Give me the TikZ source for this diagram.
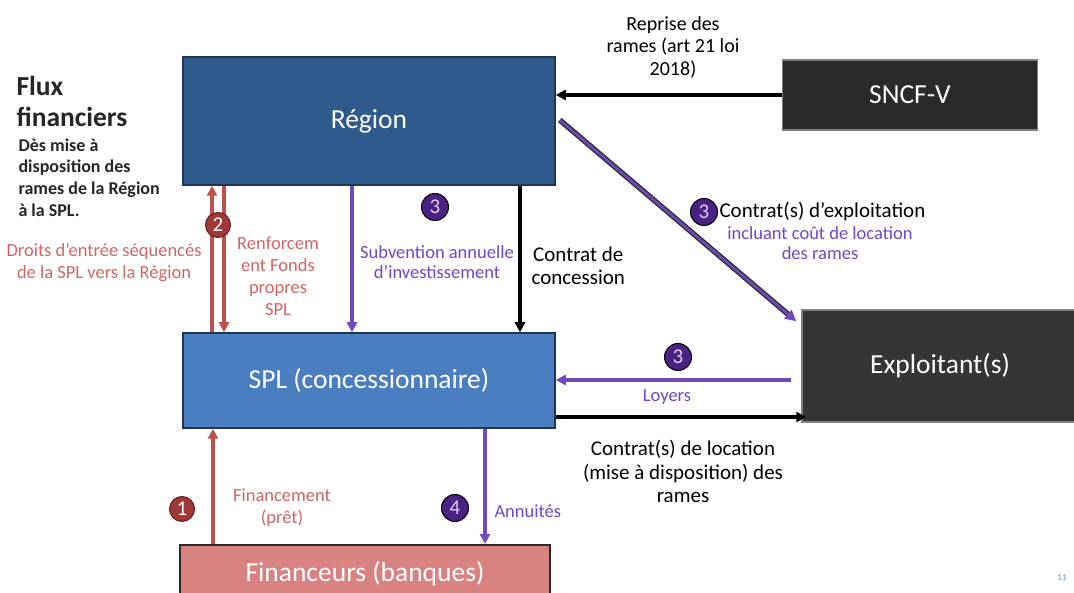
\documentclass[tikz,border=0pt]{standalone}
\usepackage{fontspec}
\setmainfont{Carlito}
\usetikzlibrary{arrows.meta}

\definecolor{regionblue}{HTML}{2E5A8C}
\definecolor{splblue}{HTML}{4A7EC1}
\definecolor{boxedge}{HTML}{1F3550}
\definecolor{darkbox}{HTML}{2A2A2A}
\definecolor{bankpink}{HTML}{D98282}
\definecolor{flowred}{HTML}{C0504D}
\definecolor{labelred}{HTML}{CD6666}
\definecolor{flowpurple}{HTML}{7048C0}
\definecolor{stepred}{HTML}{A03838}
\definecolor{steppurple}{HTML}{4A2283}

\begin{document}
\begin{tikzpicture}[x=1pt,y=-1pt,
  box/.style={draw=boxedge,line width=1.5pt,minimum width=#1,inner sep=0pt,text=white,font=\fontsize{27.5}{27.5}\selectfont},
  flow/.style={line width=3.5pt,-{Triangle[length=10pt,width=10pt]}},
  stepred/.style={circle,fill=stepred,draw=stepred!60!black,line width=1pt,text=white,minimum size=25pt,inner sep=0pt,font=\fontsize{21}{21}\selectfont},
  steppurple/.style={circle,fill=steppurple,draw=black,line width=1pt,text=violet!20,minimum size=27pt,inner sep=0pt,font=\fontsize{21}{21}\selectfont},
  blacklabel/.style={align=center,font=\fontsize{21}{23.5}\selectfont},
  redlabel/.style={align=center,text=labelred,font=\fontsize{18.5}{22}\selectfont},
  purplelabel/.style={align=center,text=flowpurple,font=\fontsize{18.5}{20.5}\selectfont}]
  \useasboundingbox[fill=white] (0,0) rectangle (1074,593);

  % Actors
  \node[box=372pt,minimum height=128pt,fill=regionblue] (reg) at (369,121) {Région};
  \node[box=255pt,minimum height=70pt,fill=darkbox,draw=darkbox!60] (sncf) at (910,95) {SNCF-V};
  \node[box=372pt,minimum height=95pt,fill=splblue] (spl) at (369,380.5) {SPL (concessionnaire)};
  \node[box=276pt,minimum height=112pt,fill=darkbox!95,draw=darkbox!60] (expl) at (940,366) {Exploitant(s)};
  \node[box=370pt,minimum height=58pt,fill=bankpink,draw=darkbox,line width=2pt] (fin) at (365,574) {Financeurs (banques)};

  % Title on the left
  \node[anchor=north west,align=left,font=\bfseries\fontsize{27.5}{31}\selectfont,text=black!85] (title) at (13,73) {Flux\\financiers};
  \node[anchor=north west,align=left,font=\bfseries\fontsize{18}{21.7}\selectfont,text=black!85] (subtitle) at (15,135) {Dès mise à\\disposition des\\rames de la Région\\à la SPL.};

  % SNCF-V hands the rolling stock to the Region
  \draw[flow] (sncf.west) -- (sncf.west -| reg.east);
  \node[blacklabel,font=\fontsize{20}{22.5}\selectfont] (reprise) at (673,47) {Reprise des\\rames (art 21 loi\\2018)};

  % Operating contract, Region to operator(s)
  \draw[black!80,line width=5.5pt,shorten >=8pt] ([xshift=4pt,yshift=1pt]reg.east) -- ([xshift=-5pt,yshift=-12pt]expl.north west);
  \draw[flowpurple,line width=2.5pt,-{Triangle[length=11pt,width=11pt]}] ([xshift=4pt,yshift=1pt]reg.east) -- ([xshift=-5pt,yshift=-12pt]expl.north west);
  \node[steppurple] (s3c) at (704,212) {3};
  \node[blacklabel,anchor=west] (exploit) at (716,212) {Contrat(s) d’exploitation};
  \node[purplelabel] (incluant) at (820,243) {incluant coût de location\\des rames};

  % Equity flows between SPL and Region
  \draw[flow,flowred] ([xshift=-157pt]reg.south |- spl.north) -- ([xshift=-157pt]reg.south);
  \draw[flow,flowred] ([xshift=-145pt]reg.south) -- ([xshift=-145pt]reg.south |- spl.north);
  \node[stepred] (s2) at (218,225) {2};
  \node[redlabel] (droits) at (104,263) {Droits d’entrée séquencés\\de la SPL vers la Région};
  \node[redlabel] (renfort) at (278,276) {Renforcem\\ent Fonds\\propres\\SPL};

  % Annual investment subsidy
  \draw[flow,flowpurple] ([xshift=-17pt]reg.south) -- ([xshift=-17pt]reg.south |- spl.north);
  \node[steppurple] (s3a) at (435,207) {3};
  \node[purplelabel] (subv) at (437,262) {Subvention annuelle\\d’investissement};

  % Concession contract
  \draw[flow] ([xshift=151pt]reg.south) -- ([xshift=151pt]reg.south |- spl.north);
  \node[blacklabel,anchor=west] (concession) at (528,266) {Contrat de\\concession};

  % Rents from operator(s) to SPL
  \draw[flow,flowpurple,shorten >=10pt] ([xshift=-10pt,yshift=-14pt]expl.west) -- ([xshift=-10pt,yshift=-14pt]expl.west -| spl.east);
  \node[steppurple] (s3b) at (678,357) {3};
  \node[purplelabel] (loyers) at (667,397) {Loyers};

  % Leasing contract, SPL to operator(s)
  \draw[flow,shorten >=-5pt] ([yshift=-36.5pt]spl.east) -- ([yshift=-36.5pt]spl.east -| expl.west);
  \node[blacklabel] (location) at (683,471.5) {Contrat(s) de location\\(mise à disposition) des\\rames};

  % Bank loan and repayments
  \draw[flow,flowred] ([xshift=-152pt]fin.north) -- ([xshift=-152pt]fin.north |- spl.south);
  \node[stepred] (s1) at (182,509) {1};
  \node[redlabel] (pret) at (282,508) {Financement\\(prêt)};
  \draw[flow,flowpurple] ([xshift=116pt]spl.south) -- ([xshift=116pt]spl.south |- fin.north);
  \node[steppurple] (s4) at (455,508) {4};
  \node[purplelabel,anchor=west] (annuites) at (491,511) {Annuités};

  % Page number
  \node[text=splblue!60,font=\bfseries\fontsize{9}{9}\selectfont] (page) at (1062,578) {11};
\end{tikzpicture}
\end{document}
